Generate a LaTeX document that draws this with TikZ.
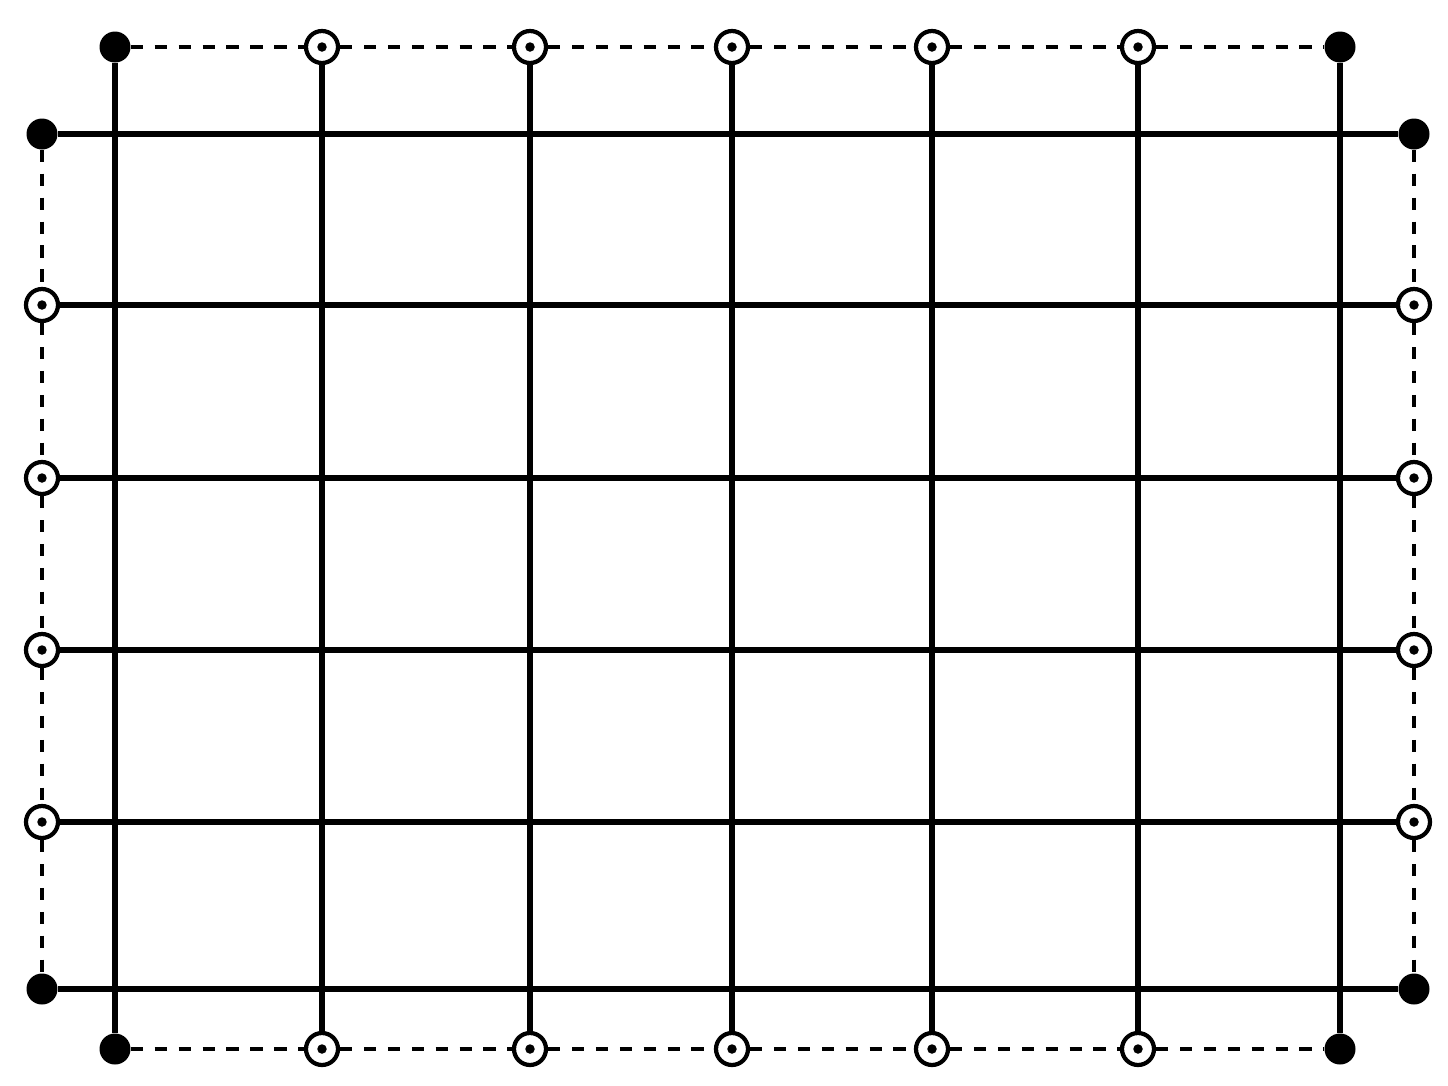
\documentclass[tikz,border=0pt]{standalone}
\usepackage{tikz}

\tikzset{
  dot/.style={circle, fill=black, minimum size=0.62cm, inner sep=0pt},
  ring/.style={circle, draw=black, fill=white, line width=2.4pt, minimum size=0.64cm, inner sep=0pt,
    path picture={\fill[black] (path picture bounding box.center) circle (0.095cm);}},
  wire/.style={line width=3pt},
  edge/.style={line width=2.4pt, dash pattern=on 7pt off 6.6pt}
}

\begin{document}
\begin{tikzpicture}[x=0.02cm, y=-0.02cm]
  \useasboundingbox (0,0) rectangle (1448,1086);
  % top row
  \node[dot] (t1) at (115,47) {};
  \node[ring] (t2) at (322,47) {};
  \node[ring] (t3) at (530,47) {};
  \node[ring] (t4) at (732,47) {};
  \node[ring] (t5) at (932,47) {};
  \node[ring] (t6) at (1138,47) {};
  \node[dot] (t7) at (1340,47) {};
  % bottom row
  \node[dot] (b1) at (115,1049) {};
  \node[ring] (b2) at (322,1049) {};
  \node[ring] (b3) at (530,1049) {};
  \node[ring] (b4) at (732,1049) {};
  \node[ring] (b5) at (932,1049) {};
  \node[ring] (b6) at (1138,1049) {};
  \node[dot] (b7) at (1340,1049) {};
  % left column
  \node[dot] (l1) at (42,134) {};
  \node[ring] (l2) at (42,305) {};
  \node[ring] (l3) at (42,478) {};
  \node[ring] (l4) at (42,650) {};
  \node[ring] (l5) at (42,822) {};
  \node[dot] (l6) at (42,989) {};
  % right column
  \node[dot] (r1) at (1414,134) {};
  \node[ring] (r2) at (1414,305) {};
  \node[ring] (r3) at (1414,478) {};
  \node[ring] (r4) at (1414,650) {};
  \node[ring] (r5) at (1414,822) {};
  \node[dot] (r6) at (1414,989) {};
  % dashed frame
  \draw[edge] (t1) -- (t2) -- (t3) -- (t4) -- (t5) -- (t6) -- (t7);
  \draw[edge] (b1) -- (b2) -- (b3) -- (b4) -- (b5) -- (b6) -- (b7);
  \draw[edge] (l1) -- (l2) -- (l3) -- (l4) -- (l5) -- (l6);
  \draw[edge] (r1) -- (r2) -- (r3) -- (r4) -- (r5) -- (r6);
  % grid
  \draw[wire] (t1) -- (b1);
  \draw[wire] (t2) -- (b2);
  \draw[wire] (t3) -- (b3);
  \draw[wire] (t4) -- (b4);
  \draw[wire] (t5) -- (b5);
  \draw[wire] (t6) -- (b6);
  \draw[wire] (t7) -- (b7);
  \draw[wire] (l1) -- (r1);
  \draw[wire] (l2) -- (r2);
  \draw[wire] (l3) -- (r3);
  \draw[wire] (l4) -- (r4);
  \draw[wire] (l5) -- (r5);
  \draw[wire] (l6) -- (r6);
\end{tikzpicture}
\end{document}
